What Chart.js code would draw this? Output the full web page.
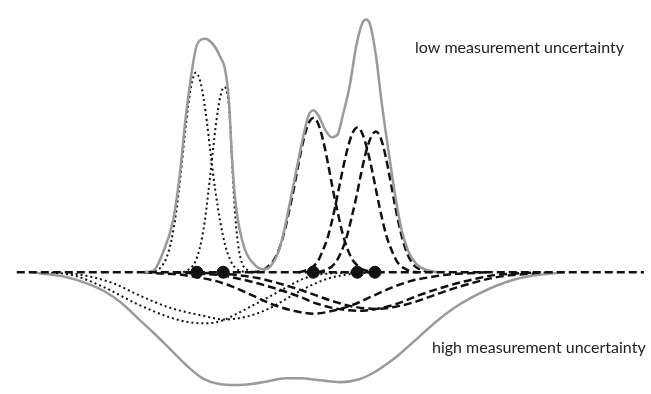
<!DOCTYPE html>
<html>
<head>
<meta charset="utf-8">
<script src="https://cdn.jsdelivr.net/npm/chart.js@4"></script>
<style>
  body { margin: 0; background: #fff; }
  #wrap { width: 651px; height: 394px; }
</style>
</head>
<body>
<div id="wrap"><canvas id="chart"></canvas></div>
<script>
// peak positions (dots on the baseline)
const peakPositions = [194, 221, 313, 358, 376];

// low measurement uncertainty (above the line): [position, height]
const lowSum = [[140,0],[150,2],[160,22],[170,55],[177,105],[182,155],[187,195],[193,232],[198,241],[203,242],[208,239],[213,233],[218,223],[222,214],[225,196],[227,175],[230,118],[233,78],[236,54],[243,24],[253,8],[263,3],[270,7],[277,20],[283,42],[293,92],[303,142],[308,162],[313,168],[318,163],[325,148],[332,140],[338,143],[343,162],[350,192],[357,235],[363,258],[367,262],[371,257],[377,225],[383,175],[390,125],[397,78],[403,45],[410,22],[418,9],[427,3],[440,0]];
const lowA = [[146,0],[153,2],[158,6],[163,15],[168,33],[173,63],[178,106],[183,154],[188,192],[193,207],[198,196],[203,166],[208,124],[213,84],[218,52],[223,28],[228,13],[233,5],[240,1],[250,0]];
const lowB = [[180,0],[186,3],[192,10],[197,25],[202,52],[206,85],[210,122],[214,157],[218,182],[222,192],[225,186],[227,170],[229,135],[231,95],[233,62],[236,30],[240,10],[246,2],[254,0]];
const lowC = [[250,0],[258,1],[263,3],[268,7],[273,13],[278,24],[283,40],[288,62],[293,86],[298,113],[303,137],[308,154],[313,160],[318,154],[323,137],[328,113],[333,86],[338,62],[343,40],[348,24],[353,13],[358,7],[363,3],[370,1],[378,0]];
const lowD = [[298,0],[303,1],[308,3],[313,6],[318,12],[323,23],[328,37],[333,57],[338,81],[343,106],[348,128],[353,144],[358,150],[363,144],[368,128],[373,106],[378,81],[383,57],[388,37],[393,23],[398,12],[403,6],[408,3],[413,1],[420,0]];
const lowE = [[317,0],[322,1],[327,3],[332,6],[337,12],[342,22],[347,36],[352,56],[357,78],[362,103],[367,125],[372,140],[377,146],[382,139],[387,120],[392,94],[397,67],[402,43],[407,25],[412,13],[417,6],[422,3],[428,1],[435,0]];

// high measurement uncertainty (below the line): [position, -depth]
const highSum = [[25,0],[33,-1],[60,-5],[80,-11],[100,-20],[117,-32],[133,-47],[150,-63],[167,-80],[185,-98],[200,-110],[217,-116],[235,-117],[250,-116],[267,-113],[285,-110],[300,-110],[320,-112],[340,-114],[360,-111],[375,-104],[387,-96],[400,-86],[420,-68],[440,-50],[460,-35],[483,-22],[500,-14],[517,-8],[535,-4],[550,-2],[570,0]];
const highA = [[40,0],[67,-3],[100,-16],[133,-33],[167,-47],[187,-52],[205,-53],[220,-50],[233,-44],[250,-35],[267,-26],[285,-16],[300,-8],[315,-3],[335,-1],[360,0]];
const highB = [[60,0],[87,-5],[110,-12],[133,-23],[167,-37],[200,-45],[222,-49],[245,-46],[267,-38],[290,-25],[310,-14],[330,-6],[350,-2],[375,0]];
const highC = [[140,0],[153,-1],[173,-2],[193,-5],[213,-9],[233,-16],[253,-25],[273,-34],[293,-40],[313,-43],[333,-40],[353,-34],[373,-25],[393,-16],[413,-9],[433,-5],[453,-2],[473,-1],[490,0]];
const highD = [[170,0],[198,-1.5],[218,-3],[238,-7],[258,-12],[278,-18],[298,-25],[318,-33],[338,-38],[358,-40],[378,-38],[398,-33],[418,-25],[438,-18],[458,-12],[478,-7],[498,-3],[518,-1.5],[545,0]];
const highE = [[190,0],[216,-1.5],[236,-3],[256,-6],[276,-11],[296,-17],[316,-24],[336,-31],[356,-36],[376,-38],[396,-36],[416,-31],[436,-24],[456,-17],[476,-11],[496,-6],[516,-3],[536,-1.5],[560,0]];

const baseline = [[10,0],[651,0]];

const labels = ["low measurement uncertainty", "high measurement uncertainty"];

function pts(arr) {
    return arr.map(p => ({ x: p[0], y: p[1] }));
}

const DOT = [2, 3];
const DASH = [8, 4];

function curve(data, style) {
    let ds = {
        data: pts(data),
        borderColor: "#111",
        borderWidth: 2,
        pointRadius: 0,
        fill: false,
        cubicInterpolationMode: "monotone",
        order: 2
    };
    if (style === "dot") ds.borderDash = DOT;
    if (style === "dash") { ds.borderDash = DASH; ds.borderWidth = 2.5; }
    if (style === "sum") { ds.borderColor = "#9a9a9a"; ds.borderWidth = 2.5; ds.order = 1; }
    return ds;
}

const labelPlugin = {
    id: "labels",
    afterDraw(chart) {
        const ctx = chart.ctx;
        ctx.save();
        ctx.fillStyle = "#222";
        ctx.font = "16px Lato";
        ctx.textBaseline = "alphabetic";
        ctx.fillText(labels[0], 415, 53);
        ctx.fillText(labels[1], 432, 353);
        ctx.restore();
    }
};

const datasets = [
    { data: pts(peakPositions.map(x => [x, 0])), showLine: false, pointRadius: 6,
      pointBackgroundColor: "#111", pointBorderColor: "#111", order: 0 },
    curve(lowSum, "sum"),
    curve(highSum, "sum"),
    curve(lowA, "dot"), curve(lowB, "dot"),
    curve(lowC, "dash"), curve(lowD, "dash"), curve(lowE, "dash"),
    curve(highA, "dot"), curve(highB, "dot"),
    curve(highC, "dash"), curve(highD, "dash"), curve(highE, "dash"),
    Object.assign(curve(baseline, "dash"), { order: 0.5 })
];

new Chart(document.getElementById("chart"), {
    type: "line",
    data: { datasets: datasets },
    options: {
        responsive: true,
        maintainAspectRatio: false,
        animation: false,
        layout: { padding: 0 },
        clip: false,
        plugins: { legend: { display: false }, tooltip: { enabled: false } },
        scales: {
            x: { type: "linear", min: 0, max: 651, display: false },
            y: { type: "linear", min: -119, max: 275, display: false }
        }
    },
    plugins: [labelPlugin]
});
</script>
</body>
</html>
